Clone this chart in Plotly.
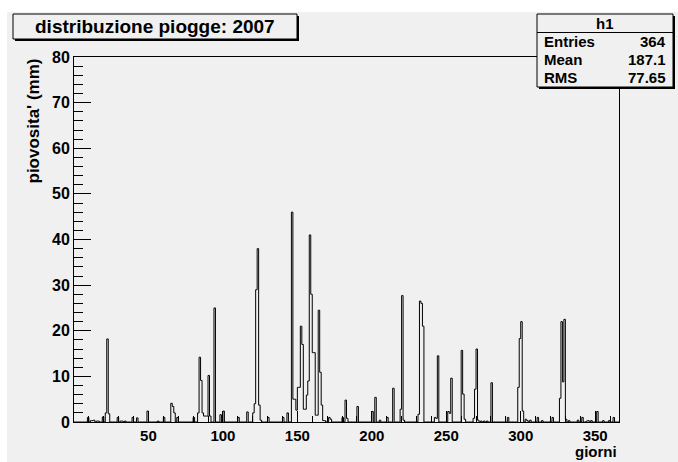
import numpy as np
import plotly.graph_objects as go

# Daily rainfall (mm), 2007 — only the days with rain are listed
rain_day = [9, 11, 12, 13, 15, 16, 19, 21, 22, 23, 29, 31, 32, 34, 39, 42, 49, 56, 60,
            65, 66, 67, 69, 80, 83, 84, 85, 86, 87, 88, 89, 90, 91, 94, 98, 100, 110, 116,
            120, 121, 122, 123, 124, 125, 130, 140, 143,
            146, 147, 148, 149, 150, 151, 152, 153, 154, 155, 156, 157, 158, 159, 160,
            161, 162, 163, 164, 165, 166, 167, 168, 171, 172, 180, 182, 183, 190, 200,
            202, 205, 210, 214, 219, 220, 221, 231, 232, 233, 234, 242, 243, 244, 251,
            252, 253, 260, 261, 262, 268, 269, 270, 271, 273, 275, 277, 280, 291, 298,
            299, 300, 301, 303, 304, 306, 311, 314, 321, 326, 327, 328, 329, 330, 332,
            338, 341, 344, 345, 347, 351, 355, 359, 362]
rain_mm = [1.0, 0.3, 0.3, 0.4, 0.2, 0.2, 1.1, 2.0, 18.2, 1.8, 1.0, 0.2, 0.2, 0.2, 1.0, 0.9, 2.4, 0.2, 1.0,
           4.1, 3.4, 2.0, 1.0, 1.0, 2.0, 14.2, 9.1, 2.0, 1.3, 1.3, 1.3, 10.2, 1.3, 25.0, 1.6, 2.4, 1.0, 2.2,
           2.0, 4.0, 29.0, 38.0, 3.7, 0.4, 1.0, 1.0, 2.0,
           46.0, 5.0, 5.0, 2.6, 7.6, 7.6, 21.0, 17.0, 2.8, 2.8, 5.9, 9.0, 41.0, 28.0, 15.2,
           15.2, 1.5, 1.5, 24.5, 10.9, 3.7, 0.3, 0.3, 1.0, 0.6, 1.0, 4.8, 0.8, 3.4, 2.3,
           5.4, 0.4, 1.0, 7.4, 2.8, 27.7, 0.4, 1.7, 26.5, 26.0, 21.0, 1.0, 0.8, 14.5, 2.3,
           1.9, 9.6, 15.7, 6.1, 0.6, 0.8, 7.2, 16.0, 0.4, 0.2, 0.2, 0.2, 8.6, 1.0, 7.6,
           18.3, 22.0, 2.4, 0.6, 0.3, 0.4, 1.0, 0.3, 1.0, 5.2, 22.0, 8.8, 22.5, 0.6, 0.3,
           0.4, 1.0, 0.2, 0.3, 0.3, 2.3, 0.3, 0.3, 1.0]

x_ticks = [50, 100, 150, 200, 250, 300, 350]
x_min, x_max = 0, 366
y_min, y_max = 0, 80

title_text = "distribuzione piogge: 2007"
stats_name = "h1"
stats_rows = [("Entries", "364"), ("Mean", "187.1"), ("RMS", "77.65")]

# one bin per day
daily = np.zeros(x_max - x_min)
for d, v in zip(rain_day, rain_mm):
    daily[d - x_min] = v
edges = np.arange(x_min, x_max + 1)
step_y = np.append(daily, daily[-1])

W, H = 678, 462
L, R, T, B = 74, 619, 57, 422
PW, PH = R - L, B - T
BG = "#f0f0f0"
FONT = "Liberation Sans"


def px(x):
    return (x - L) / PW


def py(y):
    return (B - y) / PH


fig = go.Figure()
fig.add_trace(go.Scatter(
    x=edges, y=step_y, mode="lines",
    line=dict(shape="hv", color="black", width=1),
    hoverinfo="skip", showlegend=False,
))

shapes = []
# canvas
shapes.append(dict(type="rect", xref="paper", yref="paper", layer="below",
                   x0=px(7), x1=px(W + 5), y0=py(12), y1=py(H + 5),
                   fillcolor=BG, line=dict(width=0)))


def shadow_box(x0, y0, x1, y1):
    shapes.append(dict(type="rect", xref="paper", yref="paper", layer="above",
                       x0=px(x0 + 2), x1=px(x1 + 2), y0=py(y0 + 2), y1=py(y1 + 2),
                       fillcolor="black", line=dict(width=0)))
    shapes.append(dict(type="rect", xref="paper", yref="paper", layer="above",
                       x0=px(x0), x1=px(x1), y0=py(y0), y1=py(y1),
                       fillcolor=BG, line=dict(color="black", width=1)))


# title box
shadow_box(13, 14, 297, 39)
# statistics box
shadow_box(537, 14, 673, 87)
shapes.append(dict(type="line", xref="paper", yref="paper", layer="above",
                   x0=px(537), x1=px(673), y0=py(32.5), y1=py(32.5),
                   line=dict(color="black", width=1)))

bold = dict(family=FONT, color="black", weight="bold")
ann = []
ann.append(dict(text=title_text, xref="paper", yref="paper", x=px(155), y=py(27),
                xanchor="center", yanchor="middle", showarrow=False,
                font=dict(size=19, **bold)))
ann.append(dict(text=stats_name, xref="paper", yref="paper", x=px(605), y=py(23.5),
                xanchor="center", yanchor="middle", showarrow=False,
                font=dict(size=15, **bold)))
for i, (k, v) in enumerate(stats_rows):
    yy = 41.5 + i * 18
    ann.append(dict(text=k, xref="paper", yref="paper", x=px(542), y=py(yy),
                    xanchor="left", yanchor="middle", showarrow=False,
                    font=dict(size=15, **bold)))
    ann.append(dict(text=v, xref="paper", yref="paper", x=px(668), y=py(yy),
                    xanchor="right", yanchor="middle", showarrow=False,
                    font=dict(size=15, **bold)))
# axis titles
ann.append(dict(text="piovosita' (mm)", xref="paper", yref="paper", x=px(33), y=py(57),
                xanchor="center", yanchor="top", textangle=-90, showarrow=False,
                font=dict(size=17, **bold)))
ann.append(dict(text="giorni", xref="paper", yref="paper", x=px(619), y=py(462),
                xanchor="right", yanchor="bottom", showarrow=False,
                font=dict(size=15, **bold)))

fig.update_layout(
    width=W, height=H,
    margin=dict(l=L, r=W - R, t=T, b=H - B, pad=0),
    paper_bgcolor="white", plot_bgcolor="rgba(0,0,0,0)",
    shapes=shapes, annotations=ann, showlegend=False,
)
fig.update_xaxes(
    range=[x_min, x_max], tickmode="array", tickvals=x_ticks,
    ticks="inside", ticklen=11, tickcolor="black", tickwidth=1,
    minor=dict(ticks="inside", ticklen=6, dtick=10, tick0=0, tickcolor="black", showgrid=False),
    showline=True, linecolor="black", linewidth=1, mirror=True,
    showgrid=False, zeroline=False,
    tickfont=dict(size=15, **bold),
)
fig.update_yaxes(
    range=[y_min, y_max], dtick=10, tick0=0,
    ticks="inside", ticklen=17, tickcolor="black", tickwidth=1,
    minor=dict(ticks="inside", ticklen=9, dtick=2, tick0=0, tickcolor="black", showgrid=False),
    showline=True, linecolor="black", linewidth=1, mirror=True,
    showgrid=False, zeroline=False,
    tickfont=dict(size=16, **bold),
)

fig.write_html("out.html")
